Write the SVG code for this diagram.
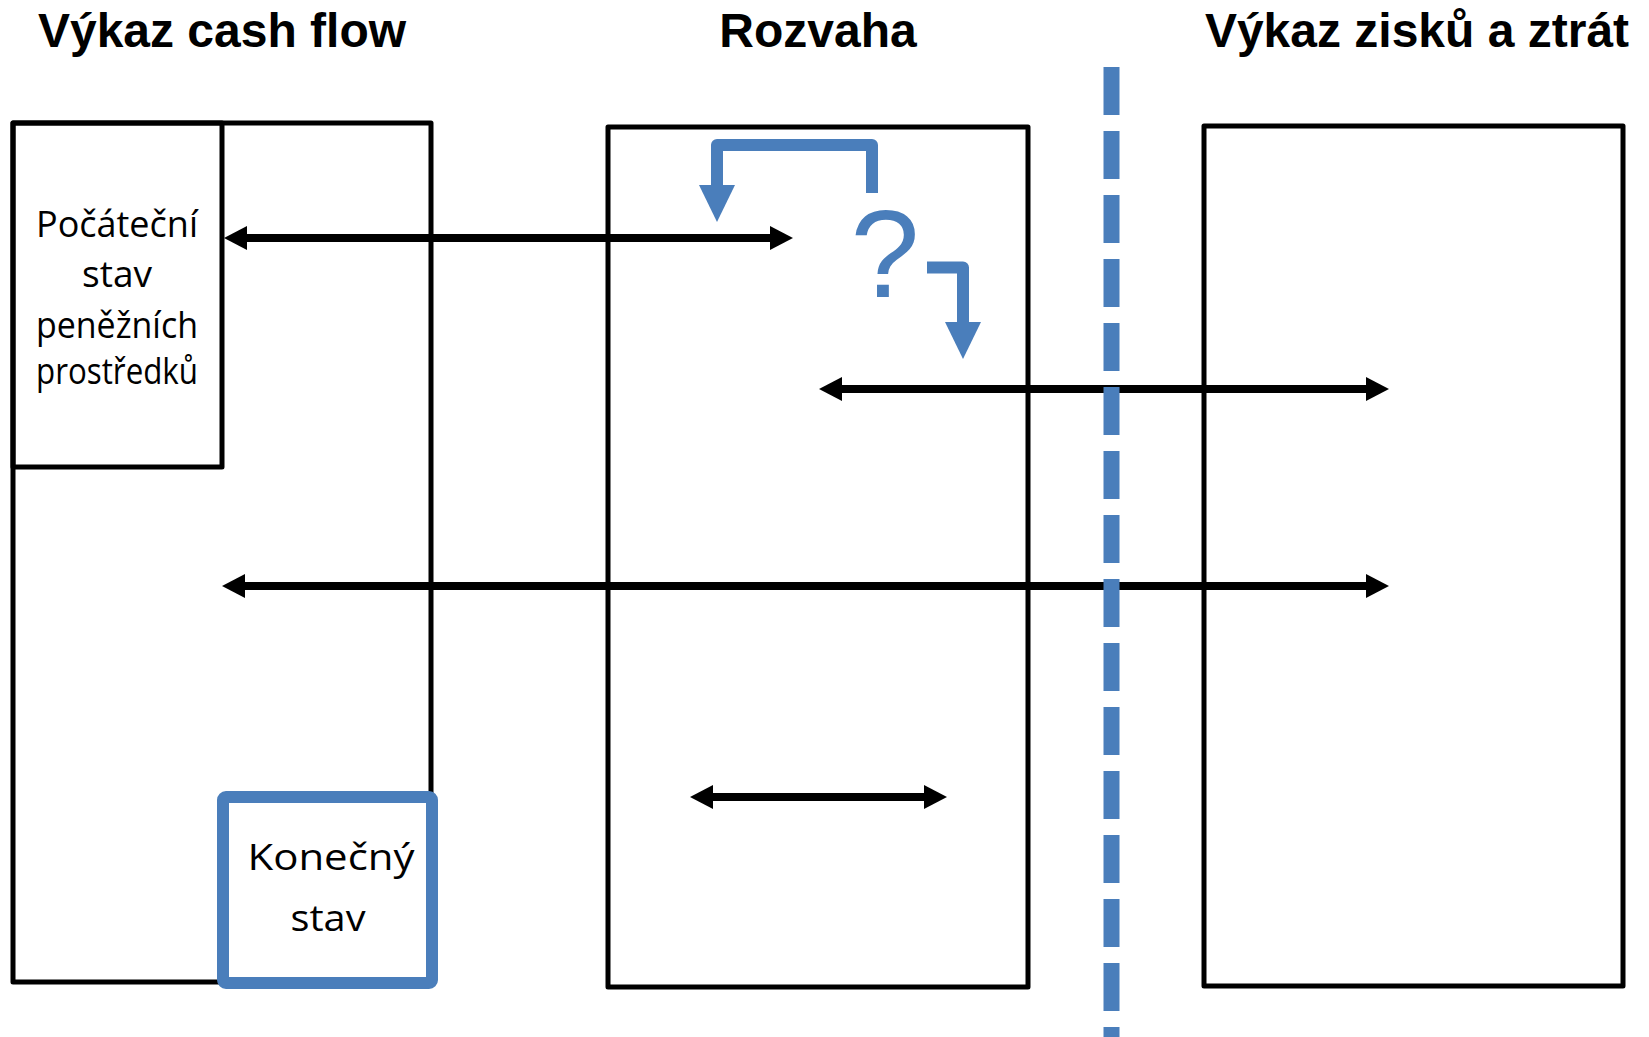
<svg xmlns="http://www.w3.org/2000/svg" width="1649" height="1037" viewBox="0 0 1649 1037">
  <style>
    .title { font-family: "Liberation Sans", Arial, sans-serif; font-weight: bold; font-size: 48px; fill: #000; text-anchor: middle; }
    .label { font-family: "Open Sans", "Liberation Sans", sans-serif; font-size: 36px; fill: #000; text-anchor: middle; }
    .box { fill: none; stroke: #000; stroke-width: 5; stroke-linejoin: round; }
    .flow { fill: none; stroke: #000; stroke-width: 8; marker-start: url(#headBlack); marker-end: url(#headBlack); }
    .blueflow { fill: none; stroke: #4a7ebb; stroke-width: 12; stroke-linejoin: round; marker-end: url(#headBlue); }
  </style>
  <defs>
    <marker id="headBlack" markerUnits="userSpaceOnUse" markerWidth="24" markerHeight="24" refX="0" refY="12" orient="auto-start-reverse" overflow="visible">
      <path d="M0,0 L23,12 L0,24 Z" fill="#000"/>
    </marker>
    <marker id="headBlue" markerUnits="userSpaceOnUse" markerWidth="37" markerHeight="36" refX="0" refY="18" orient="auto" overflow="visible">
      <path d="M0,0 L37,18 L0,36 Z" fill="#4a7ebb"/>
    </marker>
  </defs>
  <rect width="1649" height="1037" fill="#fff"/>

  <!-- column headings -->
  <text class="title" x="222" y="47">Výkaz cash flow</text>
  <text class="title" x="818" y="47">Rozvaha</text>
  <text class="title" x="1417" y="47">Výkaz zisků a ztrát</text>

  <!-- cash flow statement -->
  <g id="cashflow">
    <rect class="box" x="13" y="123" width="418" height="859"/>
  </g>
  <g id="pocatecni">
    <rect class="box" x="13" y="123" width="209" height="344" fill="#fff"/>
    <text class="label" x="117" y="237" textLength="162" lengthAdjust="spacingAndGlyphs">Počáteční</text>
    <text class="label" x="117" y="287" textLength="70" lengthAdjust="spacingAndGlyphs">stav</text>
    <text class="label" x="117" y="338" textLength="162" lengthAdjust="spacingAndGlyphs">peněžních</text>
    <text class="label" x="117" y="384" textLength="162" lengthAdjust="spacingAndGlyphs">prostředků</text>
  </g>

  <!-- balance sheet -->
  <g id="rozvaha">
    <rect class="box" x="608" y="127" width="420" height="860"/>
  </g>

  <!-- income statement -->
  <g id="vzz">
    <rect class="box" x="1204" y="126" width="419" height="860"/>
  </g>

  <!-- connectors -->
  <g id="connectors">
    <line class="flow" x1="247" y1="238" x2="770" y2="238"/>
    <line class="flow" x1="842" y1="389" x2="1366" y2="389"/>
    <line class="flow" x1="245" y1="586" x2="1366" y2="586"/>
    <line class="flow" x1="713" y1="797" x2="924" y2="797"/>
    <path class="blueflow" d="M872,193 V145 H717 V185"/>
    <path class="blueflow" d="M927,267.5 H963 V322"/>
  </g>

  <text x="885" y="297" font-family="Liberation Sans, Arial, sans-serif" font-size="124" fill="#4a7ebb" text-anchor="middle">?</text>

  <!-- closing balance -->
  <g id="konecny">
    <rect x="223" y="797" width="209" height="186" rx="3" fill="#fff" stroke="#4a7ebb" stroke-width="12"/>
    <text class="label" x="331" y="870" textLength="167" lengthAdjust="spacingAndGlyphs">Konečný</text>
    <text class="label" x="328" y="931" textLength="75" lengthAdjust="spacingAndGlyphs">stav</text>
  </g>

  <!-- dividing line -->
  <line x1="1111.5" y1="67" x2="1111.5" y2="1037" stroke="#4a7ebb" stroke-width="16" stroke-dasharray="48 16"/>
</svg>
